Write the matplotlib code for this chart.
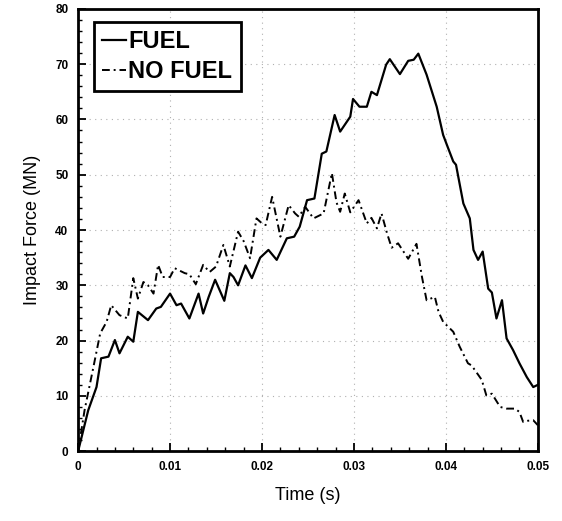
import matplotlib
matplotlib.use("Agg")
import matplotlib.pyplot as plt
from matplotlib.ticker import MultipleLocator

plt.rcParams['font.family'] = ['Liberation Sans', 'DejaVu Sans']

# time (s) and impact force (MN)
t_fuel = [0, 0.0011, 0.0020, 0.0025, 0.0033, 0.0040, 0.0045, 0.0054, 0.0060, 0.0065,
          0.0076, 0.0085, 0.0090, 0.0100, 0.0107, 0.0112, 0.0121, 0.0131, 0.0136, 0.0142,
          0.0149, 0.0159, 0.0165, 0.0169, 0.0174, 0.0182, 0.0189, 0.0198, 0.0207, 0.0216,
          0.0227, 0.0235, 0.0241, 0.0249, 0.0257, 0.0265, 0.0270, 0.0279, 0.0285, 0.0296,
          0.0299, 0.0306, 0.0314, 0.0319, 0.0325, 0.0335, 0.0339, 0.0350, 0.0359, 0.0365,
          0.0370, 0.0379, 0.0390, 0.0397, 0.0402, 0.0408, 0.0411, 0.0419, 0.0426, 0.0430,
          0.0435, 0.0440, 0.0446, 0.0450, 0.0455, 0.0461, 0.0466, 0.0473, 0.0480, 0.0488,
          0.0495, 0.0500]
f_fuel = [0, 7.4, 11.6, 16.8, 17.1, 20.1, 17.7, 20.7, 19.8, 25.2,
          23.7, 25.8, 26.1, 28.5, 26.4, 26.7, 24.0, 28.5, 24.9, 27.9,
          31.0, 27.2, 32.2, 31.5, 30.0, 33.6, 31.3, 35.0, 36.4, 34.6,
          38.5, 38.8, 40.6, 45.4, 45.7, 53.8, 54.2, 60.8, 57.8, 60.5,
          63.7, 62.3, 62.3, 65.0, 64.4, 69.9, 70.9, 68.2, 70.6, 70.8,
          71.9, 68.1, 62.3, 57.2, 55.0, 52.4, 51.8, 44.8, 42.1, 36.4,
          34.6, 36.1, 29.4, 28.7, 24.0, 27.3, 20.4, 18.3, 15.9, 13.4,
          11.6, 12.0]

t_nofuel = [0, 0.0007, 0.0016, 0.0024, 0.0031, 0.0036, 0.0045, 0.0054, 0.0060, 0.0065,
            0.0071, 0.0076, 0.0082, 0.0087, 0.0092, 0.0100, 0.0105, 0.0116, 0.0121, 0.0128,
            0.0136, 0.0143, 0.0150, 0.0158, 0.0165, 0.0174, 0.0180, 0.0187, 0.0194, 0.0200,
            0.0204, 0.0211, 0.0220, 0.0229, 0.0236, 0.0240, 0.0247, 0.0256, 0.0267, 0.0276,
            0.0281, 0.0285, 0.0290, 0.0296, 0.0305, 0.0314, 0.0319, 0.0325, 0.0330, 0.0336,
            0.0341, 0.0348, 0.0359, 0.0368, 0.0374, 0.0379, 0.0388, 0.0392, 0.0397, 0.0408,
            0.0415, 0.0424, 0.0428, 0.0439, 0.0444, 0.0450, 0.0459, 0.0466, 0.0475, 0.0480,
            0.0484, 0.0489, 0.0495, 0.0500]
f_nofuel = [0, 7.4, 14.7, 21.3, 23.4, 26.4, 24.6, 24.0, 31.3, 27.6,
            30.6, 30.0, 28.5, 33.7, 31.5, 31.5, 33.1, 32.2, 32.0, 30.2,
            33.7, 32.4, 33.4, 37.3, 33.4, 39.7, 38.0, 34.9, 42.1, 41.2,
            40.9, 46.0, 38.8, 44.5, 43.0, 42.4, 44.2, 42.1, 43.0, 50.3,
            45.0, 43.3, 46.6, 43.2, 45.4, 41.2, 42.2, 40.3, 43.0, 39.4,
            36.8, 37.6, 34.8, 37.5, 31.5, 27.3, 27.9, 25.2, 23.4, 21.6,
            18.9, 15.9, 15.5, 12.9, 10.1, 10.4, 8.0, 7.7, 7.7, 7.1,
            5.3, 5.5, 5.6, 4.7]

x_ticks = [0, 0.01, 0.02, 0.03, 0.04, 0.05]
x_ticklabels = ['0', '0.01', '0.02', '0.03', '0.04', '0.05']
y_ticks = [0, 10, 20, 30, 40, 50, 60, 70, 80]

fig = plt.figure(figsize=(5.62, 5.21), dpi=100)
ax = fig.add_axes([0.139, 0.134, 0.818, 0.849])

ax.plot(t_fuel, f_fuel, color='black', lw=1.6, label='FUEL')
ax.plot(t_nofuel, f_nofuel, color='black', lw=1.4, linestyle=(0, (4, 2, 1, 2)),
        label='NO FUEL')

ax.set_xlim(0, 0.05)
ax.set_ylim(0, 80)
ax.set_xticks(x_ticks)
ax.set_xticklabels(x_ticklabels)
ax.set_yticks(y_ticks)
ax.xaxis.set_minor_locator(MultipleLocator(0.002))
ax.yaxis.set_minor_locator(MultipleLocator(2))
ax.tick_params(which='major', direction='in', length=6, width=1.3,
               labelsize=8.5, pad=7)
ax.tick_params(which='minor', direction='in', length=3, width=1.0)
for lab in ax.get_xticklabels() + ax.get_yticklabels():
    lab.set_fontweight('bold')

ax.grid(True, which='major', color='#b0b0b0', linestyle=(0, (1, 4)), linewidth=0.8)
for s in ax.spines.values():
    s.set_linewidth(2)

ax.set_xlabel('Time (s)', fontsize=13, labelpad=10)
ax.set_ylabel('Impact Force (MN)', fontsize=13, labelpad=10)

leg = ax.legend(loc='upper left', bbox_to_anchor=(0.035, 0.971), borderaxespad=0,
                fancybox=False, edgecolor='black', framealpha=1,
                prop={'weight': 'bold', 'size': 17}, handlelength=1.0,
                handletextpad=0.1, borderpad=0.35, labelspacing=0.3)
leg.get_frame().set_linewidth(2)

fig.savefig('out.png', dpi=100)
